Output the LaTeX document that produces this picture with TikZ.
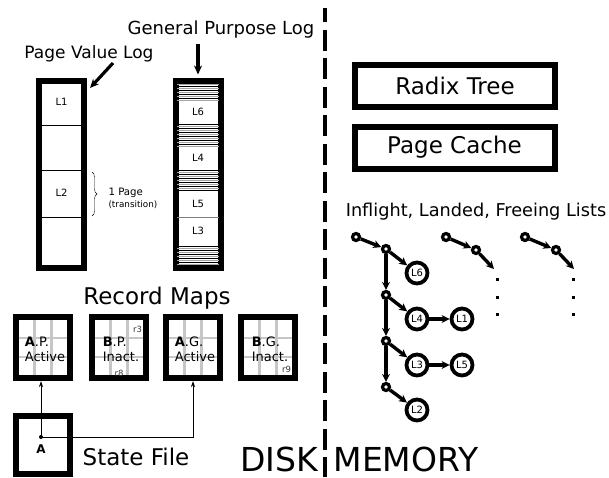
\documentclass[tikz,border=0pt]{standalone}
\usepackage{fontspec}
\setmainfont{DejaVu Sans}
\usetikzlibrary{arrows.meta,decorations.pathreplacing}

\newcommand{\fsz}[1]{\fontsize{#1}{#1}\selectfont}

\begin{document}
\begin{tikzpicture}[x=1pt,y=-1pt,
  logbox/.style={draw,line width=6pt,inner sep=0pt,minimum width=45pt,minimum height=187pt},
  mapbox/.style={draw,line width=6pt,inner sep=0pt,minimum width=54pt,minimum height=61pt},
  wordbox/.style={draw,line width=6pt,inner sep=0pt,minimum width=200pt,minimum height=42pt,font=\fsz{23}},
  grid/.style={gray!45,line width=2.4pt},
  stripe/.style={line width=.8pt},
  fatarrow/.style={line width=3.2pt,-{Stealth[length=9pt,width=8pt]}},
  thinarrow/.style={line width=.8pt,-{Stealth[length=6pt,width=4pt]}},
  ptr/.style={draw,circle,line width=3.2pt,inner sep=0pt,minimum size=7pt},
  rec/.style={draw,circle,line width=3.8pt,inner sep=0pt,minimum size=21pt,font=\fsz{10}},
  link/.style={line width=3.4pt,-{Stealth[length=8pt,width=8pt]}},
  maptext/.style={align=left,font=\fontsize{13}{15.5}\selectfont},
  small/.style={font=\fsz{8.5},text=black!80}]
  \useasboundingbox (0,0) rectangle (609,477);

  % disk / memory divider
  \draw[line width=4.5pt,dash pattern=on 21pt off 7.5pt,dash phase=7pt] (325,8) -- (325,477);

  % logs
  \node[logbox] (pvlog) at (61.5,174.5) {};
  \node[logbox] (gplog) at (198,174) {};
  \draw (39,125) -- (84,125);
  \draw (39,170) -- (84,170);
  \draw (39,217) -- (84,217);
  \node[font=\fsz{10}] (l1) at (61.5,102) {L1};
  \node[font=\fsz{10}] (l2) at (61.5,193) {L2};
  \foreach \ya/\n in {82/9,124/11,170/10,246/10}
    \foreach \k in {0,...,\n}{
      \ifodd\k \def\c{gray!70}\else \def\c{black}\fi
      \draw[stripe,\c] (177,\ya+2*\k) -- (219,\ya+2*\k);
    }
  \draw[gray] (177,217) -- (219,217);
  \node[font=\fsz{10}] (g6) at (198,112) {L6};
  \node[font=\fsz{10}] (g4) at (198,158) {L4};
  \node[font=\fsz{10}] (g5) at (198,204) {L5};
  \node[font=\fsz{10}] (g3) at (198,231) {L3};

  \node[font=\fsz{17},anchor=base] (pvlabel) at (89,58) {Page Value Log};
  \node[font=\fsz{18},anchor=base] (gplabel) at (221,34) {General Purpose Log};
  \coordinate (pvfrom) at (113,63);
  \coordinate (pvto) at (90,88);
  \draw[fatarrow] (pvfrom) -- (pvto);
  \draw[fatarrow] ([yshift=34pt]gplog.north) -- ([yshift=3pt]gplog.north);

  \draw[decorate,decoration={brace,amplitude=5pt}] (92,172) -- (92,216);
  \node[font=\fsz{10.2},anchor=west] (onepage) at (105,193) {1 Page};
  \node[font=\fsz{8.8},anchor=west] (trans) at (105,205) {(transition)};

  % record maps
  \node[font=\fsz{23},anchor=base] (maps) at (157,304) {Record Maps};
  \foreach \name/\x in {m1/43,m2/119,m3/193,m4/268}{
    \draw[grid] (\x-8.5,317) -- (\x-8.5,378);
    \draw[grid] (\x+8.5,317) -- (\x+8.5,378);
    \draw[grid] (\x-28,338) -- (\x+28,338);
    \draw[grid] (\x+28,357) -- (\x-28,357);
    \node[mapbox] (\name) at (\x,347.5) {};
  }
  \node[maptext] (t1) at ([xshift=2pt,yshift=-2pt]m1) {\textbf{A}.P.\\Active};
  \node[maptext] (t2) at ([xshift=2pt,yshift=-2pt]m2) {\textbf{B}.P.\\Inact.};
  \node[maptext] (t3) at ([xshift=2pt,yshift=-2pt]m3) {\textbf{A}.G.\\Active};
  \node[maptext] (t4) at ([xshift=2pt,yshift=-2pt]m4) {\textbf{B}.G.\\Inact.};
  \node[small] (r3) at (137.5,329.5) {r3};
  \node[small] (r8) at (119,373) {r8};
  \node[small] (r9) at (286.5,369) {r9};

  % state file
  \node[draw,line width=6pt,inner sep=0pt,minimum width=54pt,minimum height=58pt] (state) at (43,445) {};
  \coordinate (sA) at (41,437);
  \fill (sA) circle (2);
  \node[font=\bfseries\fsz{12}] (stateA) at (41,449) {A};
  \draw[thinarrow] (sA) -- (sA |- m1.south);
  \draw[thinarrow] (sA) -| (m3.south);
  \node[font=\fsz{23},anchor=base] (statelabel) at (136,465) {State File};

  \node[font=\fsz{33},anchor=base] (disk) at (279,471) {DISK};
  \node[font=\fsz{33},anchor=base] (memory) at (406,471) {MEMORY};

  % memory side
  \node[wordbox] (radix) at (455,86) {Radix Tree};
  \node[wordbox] (cache) at (454.5,147.5) {Page Cache};
  \node[font=\fsz{17.7},anchor=base] (lists) at (476,216) {Inflight, Landed, Freeing Lists};

  \node[ptr] (h1) at (356,237) {};
  \node[ptr] (p1) at (386,249) {};
  \node[ptr] (p2) at (386,295) {};
  \node[ptr] (p3) at (386,341) {};
  \node[ptr] (p4) at (386,387) {};
  \node[rec] (c6) at (417,273) {L6};
  \node[rec] (c4) at (417,319) {L4};
  \node[rec] (c1) at (462,319) {L1};
  \node[rec] (c3) at (417,365) {L3};
  \node[rec] (c5) at (462,365) {L5};
  \node[rec] (c2) at (417,410) {L2};
  \draw[link] (h1) -- (p1);
  \draw[link] (p1) -- (c6);
  \draw[link] (p1) -- (p2);
  \draw[link] (p2) -- (c4);
  \draw[link] (c4) -- (c1);
  \draw[link] (p2) -- (p3);
  \draw[link] (p3) -- (c3);
  \draw[link] (c3) -- (c5);
  \draw[link] (p3) -- (p4);
  \draw[link] (p4) -- (c2);

  \node[ptr] (h2) at (446,237) {};
  \node[ptr] (q1) at (476,250) {};
  \coordinate (q2) at (494,269);
  \draw[link] (h2) -- (q1);
  \draw[link] (q1) -- (q2);
  \node[ptr] (h3) at (525,237) {};
  \node[ptr] (s1) at (556,250) {};
  \coordinate (s2) at (574,269);
  \draw[link] (h3) -- (s1);
  \draw[link] (s1) -- (s2);
  \foreach \x in {497,573}
    \foreach \y in {279,297,314}
      \fill (\x-1.5,\y-1.5) rectangle (\x+1.5,\y+1.5);
\end{tikzpicture}
\end{document}
